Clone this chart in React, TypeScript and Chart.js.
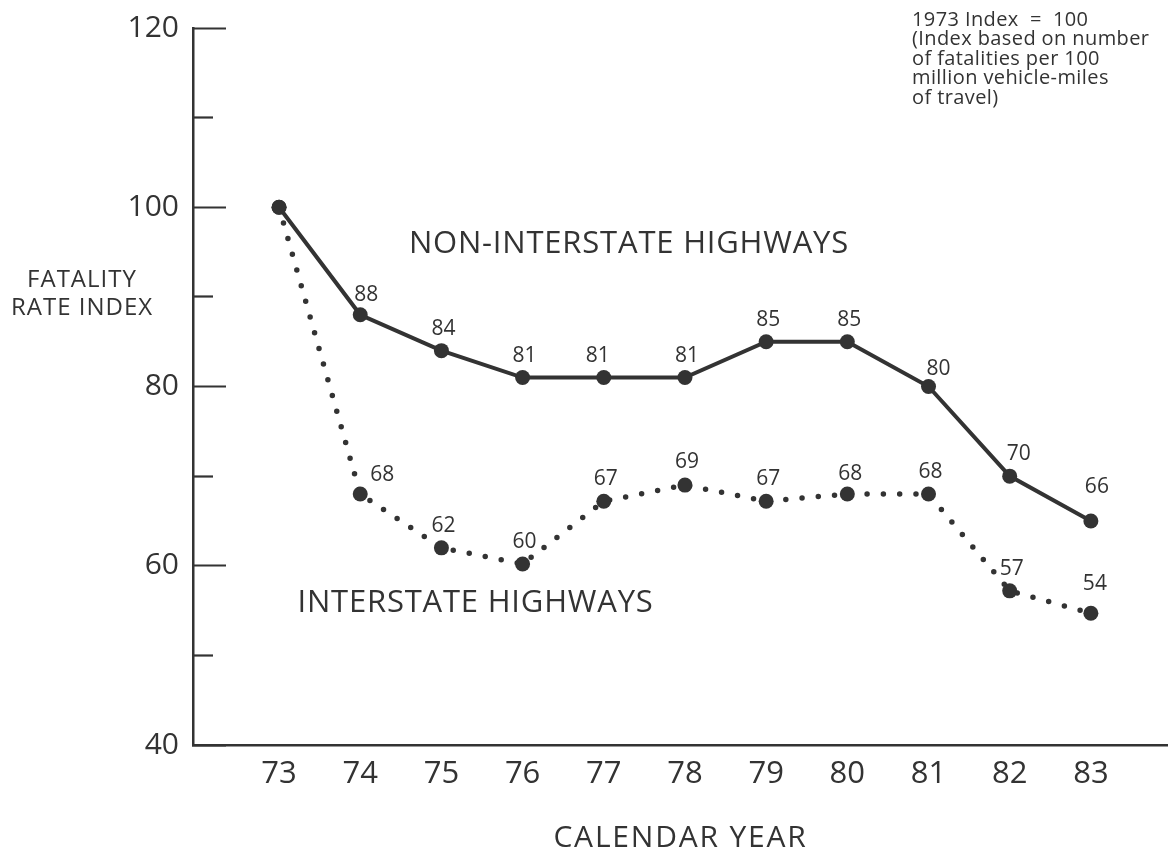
import { useEffect, useRef } from "react";
import { Chart, registerables } from "chart.js";

Chart.register(...registerables);

const INK = "#333333";
const FONT = "'Open Sans', sans-serif";

// ---- data ----
const years = [73, 74, 75, 76, 77, 78, 79, 80, 81, 82, 83];
const nonInterstateValues = [100, 88, 84, 81, 81, 81, 85, 85, 80, 70, 65];
const nonInterstateLabels = ["", "88", "84", "81", "81", "81", "85", "85", "80", "70", "66"];
const interstateValues = [100, 68, 62, 60.2, 67.2, 69, 67.2, 68, 68, 57.2, 54.7];
const interstateLabels = ["", "68", "62", "60", "67", "69", "67", "68", "68", "57", "54"];
const yTickValues = [40, 50, 60, 70, 80, 90, 100, 110, 120];
const yLabelledTicks = [40, 60, 80, 100, 120];
const yTitleLines = ["FATALITY", "RATE INDEX"];
const xTitle = "CALENDAR YEAR";
const noteLines = [
  "1973 Index  =  100",
  "(Index based on number",
  "of fatalities per 100",
  "million vehicle-miles",
  "of travel)",
];
const seriesNames = ["NON-INTERSTATE HIGHWAYS", "INTERSTATE HIGHWAYS"];

const textPlugin = {
  id: "chartTexts",
  afterDatasetsDraw(chart: any) {
    const ctx = chart.ctx as CanvasRenderingContext2D;
    const xs = chart.scales.x;
    const ys = chart.scales.y;
    const area = chart.chartArea;
    ctx.save();
    ctx.fillStyle = INK;
    ctx.textAlign = "center";
    ctx.textBaseline = "middle";

    // point value labels
    const nudges: Record<string, [number, number]>[] = [
      { "1": [6, -20], "4": [-6, -22], "8": [10, -17], "9": [9, -22], "10": [6, -34] },
      { "1": [22, -19], "5": [2, -23], "7": [3, -20], "10": [4, -29] },
    ];
    const labelSets = [nonInterstateLabels, interstateLabels];
    ctx.font = `400 21px ${FONT}`;
    chart.data.datasets.forEach((_: any, di: number) => {
      const meta = chart.getDatasetMeta(di);
      meta.data.forEach((pt: any, i: number) => {
        const txt = labelSets[di][i];
        if (!txt) return;
        const n = nudges[di][String(i)] || [2, -22];
        ctx.fillText(txt, pt.x + n[0], pt.y + n[1]);
      });
    });

    // series names, anchored in data space
    ctx.font = `400 31px ${FONT}`;
    (ctx as any).letterSpacing = "0.8px";
    ctx.fillText(seriesNames[0], xs.getPixelForValue(77.31), ys.getPixelForValue(95.9));
    ctx.fillText(seriesNames[1], xs.getPixelForValue(75.42), ys.getPixelForValue(55.84));

    // x axis title
    ctx.font = `400 30px ${FONT}`;
    (ctx as any).letterSpacing = "1.8px";
    ctx.fillText(xTitle, (area.left + area.right) / 2, 838);

    // y axis title (horizontal, two lines)
    ctx.font = `400 24px ${FONT}`;
    (ctx as any).letterSpacing = "1px";
    ctx.fillText(yTitleLines[0], 82, 280);
    ctx.fillText(yTitleLines[1], 82, 308);

    // note, top-right
    (ctx as any).letterSpacing = "0.4px";
    ctx.font = `400 20px ${FONT}`;
    ctx.textAlign = "left";
    noteLines.forEach((line, i) => {
      ctx.fillText(line, 912, 20 + i * 19.5);
    });
    (ctx as any).letterSpacing = "0px";
    ctx.restore();
  },
};

const zeroPad = (scale: any) => {
  scale.paddingTop = 0;
  scale.paddingBottom = 0;
  scale.paddingLeft = 0;
  scale.paddingRight = 0;
};

export default function App() {
  const ref = useRef<HTMLCanvasElement | null>(null);

  useEffect(() => {
    if (!ref.current) return;
    const chart = new Chart(ref.current, {
      type: "line",
      data: {
        datasets: [
          {
            label: seriesNames[0],
            data: years.map((x, i) => ({ x, y: nonInterstateValues[i] })),
            borderColor: INK,
            borderWidth: 4,
            backgroundColor: INK,
            pointRadius: 7.5,
            pointBorderWidth: 0,
            pointBackgroundColor: INK,
            tension: 0,
            fill: false,
          },
          {
            label: seriesNames[1],
            data: years.map((x, i) => ({ x, y: interstateValues[i] })),
            borderColor: INK,
            borderWidth: 5.5,
            borderDash: [0, 16.3],
            borderCapStyle: "round",
            backgroundColor: INK,
            pointRadius: 7.5,
            pointBorderWidth: 0,
            pointBackgroundColor: INK,
            tension: 0,
            fill: false,
          },
        ],
      },
      options: {
        animation: false,
        responsive: false,
        maintainAspectRatio: false,
        devicePixelRatio: 1,
        layout: { autoPadding: false, padding: { top: 28, right: 0, bottom: 0, left: 0 } },
        plugins: {
          legend: { display: false },
          tooltip: { enabled: false },
          title: { display: false },
        },
        scales: {
          x: {
            type: "linear",
            position: "bottom",
            min: 71.94,
            max: 83.95,
            afterBuildTicks: (scale: any) => {
              scale.ticks = years.map((v) => ({ value: v }));
            },
            afterFit: (scale: any) => {
              scale.height = 107;
              zeroPad(scale);
            },
            grid: { display: false, drawTicks: false },
            border: { display: true, color: INK, width: 2.5 },
            ticks: {
              color: INK,
              font: { family: FONT, size: 31, weight: "500" },
              padding: 11,
              maxRotation: 0,
              autoSkip: false,
              callback: (v: any) => String(v),
            },
            title: { display: false },
          },
          y: {
            type: "linear",
            position: "left",
            min: 40,
            max: 120,
            afterBuildTicks: (scale: any) => {
              scale.ticks = yTickValues.map((v) => ({ value: v }));
            },
            afterFit: (scale: any) => {
              scale.width = 193;
              zeroPad(scale);
            },
            grid: {
              display: true,
              drawOnChartArea: false,
              drawTicks: true,
              tickLength: -33,
              tickWidth: 2.2,
              tickColor: INK,
              tickBorderDash: (c: any) =>
                yLabelledTicks.includes(c.tick?.value) ? [] : [20, 100],
              tickBorderDashOffset: (c: any) =>
                yLabelledTicks.includes(c.tick?.value) ? 0 : 107,
            },
            border: { display: true, color: INK, width: 2.5 },
            ticks: {
              color: INK,
              font: { family: FONT, size: 30, weight: "500" },
              padding: 47,
              autoSkip: false,
              callback: (v: any) => (yLabelledTicks.includes(v) ? String(v) : ""),
            },
          },
        },
      },
      plugins: [textPlugin],
    });
    return () => chart.destroy();
  }, []);

  return (
    <div
      style={{
        position: "fixed",
        left: 0,
        top: 0,
        width: 1168,
        height: 852,
        background: "#ffffff",
      }}
    >
      <canvas ref={ref} width={1168} height={852} style={{ display: "block" }} />
    </div>
  );
}
